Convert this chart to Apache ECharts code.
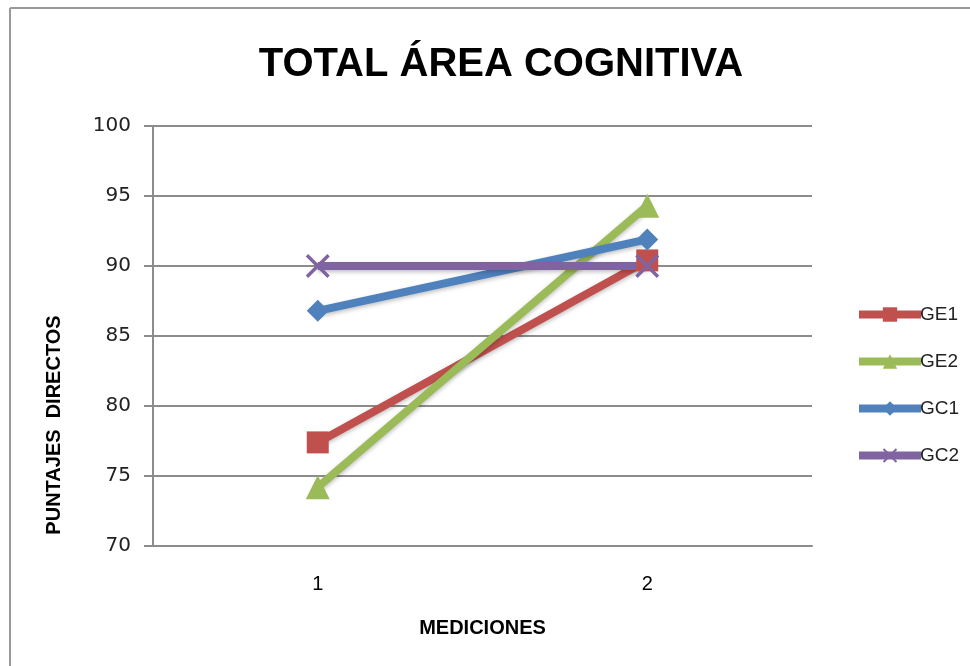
<!DOCTYPE html>
<html>
<head>
<meta charset="utf-8">
<script src="https://cdn.jsdelivr.net/npm/echarts@6/dist/echarts.min.js"></script>
<style>
  html, body { margin: 0; padding: 0; background: #fff; }
  #chart { width: 970px; height: 666px; }
</style>
</head>
<body>
<div id="chart"></div>
<script>
const mediciones = ["1", "2"];
const ge1 = [77.4, 90.4];
const ge2 = [74.2, 94.3];
const gc1 = [86.8, 91.9];
const gc2 = [90.0, 90.0];

const crossPath = "path://M0,1.2 L1.2,0 L12,10.8 L10.8,12 Z M10.8,0 L12,1.2 L1.2,12 L0,10.8 Z";

function serie(nombre, datos, color, simbolo, tam) {
    return {
        name: nombre,
        type: "line",
        data: datos,
        symbol: simbolo,
        symbolSize: tam,
        showSymbol: true,
        lineStyle: {
            width: 8,
            color: color,
            shadowColor: "rgba(0,0,0,0.25)",
            shadowBlur: 4,
            shadowOffsetY: 2
        },
        itemStyle: { color: color, borderColor: color, borderWidth: 0 },
        z: 2
    };
}

const chart = echarts.init(document.getElementById("chart"));

chart.setOption({
    animation: false,
    title: {
        text: "TOTAL ÁREA COGNITIVA",
        left: 496,
        top: 40,
        textAlign: "center",
        textStyle: {
            fontFamily: "Liberation Sans",
            fontWeight: "bold",
            fontSize: 40,
            color: "#000"
        }
    },
    grid: { left: 153, right: 158, top: 126, bottom: 120 },
    legend: {
        orient: "vertical",
        left: 850,
        top: 300,
        itemGap: 28,
        itemWidth: 62,
        itemHeight: 18,
        lineStyle: { width: 8 },
        textStyle: { fontFamily: "Liberation Sans", fontSize: 19, color: "#222", padding: [0, 0, 0, -6] },
        data: ["GE1", "GE2", "GC1", "GC2"]
    },
    xAxis: {
        type: "category",
        data: mediciones,
        boundaryGap: true,
        name: "MEDICIONES",
        nameLocation: "middle",
        nameGap: 72,
        nameTextStyle: { fontFamily: "Liberation Sans", fontWeight: "bold", fontSize: 20, color: "#000" },
        axisLine: { lineStyle: { color: "#8c8c8c", width: 2 } },
        axisTick: { show: false },
        axisLabel: { margin: 28, fontFamily: "Liberation Sans", fontSize: 20, color: "#000" }
    },
    yAxis: {
        type: "value",
        min: 70,
        max: 100,
        interval: 5,
        axisLine: { show: true, lineStyle: { color: "#8c8c8c", width: 2 } },
        axisTick: { show: true, length: 9, lineStyle: { color: "#8c8c8c", width: 2 } },
        axisLabel: { margin: 22, fontFamily: "DejaVu Sans", fontSize: 20, color: "#222" },
        splitLine: { lineStyle: { color: "#8c8c8c", width: 2 } }
    },
    graphic: [
        { type: "line", shape: { x1: 10, y1: 8, x2: 10, y2: 666 }, style: { stroke: "#9a9a9a", lineWidth: 2 } },
        { type: "line", shape: { x1: 10, y1: 8, x2: 970, y2: 8 }, style: { stroke: "#9a9a9a", lineWidth: 2 } },
        {
            type: "text",
            x: 54,
            y: 425,
            rotation: Math.PI / 2,
            style: {
                text: "PUNTAJES  DIRECTOS",
                fontFamily: "Liberation Sans",
                fontWeight: "bold",
                fontSize: 20,
                fill: "#000",
                align: "center",
                verticalAlign: "middle"
            }
        }
    ],
    series: [
        serie("GE1", ge1, "#C0504D", "rect", 22),
        serie("GE2", ge2, "#9BBB59", "triangle", 24),
        serie("GC1", gc1, "#4F81BD", "diamond", 22),
        serie("GC2", gc2, "#8064A2", crossPath, 24)
    ]
});
</script>
</body>
</html>
